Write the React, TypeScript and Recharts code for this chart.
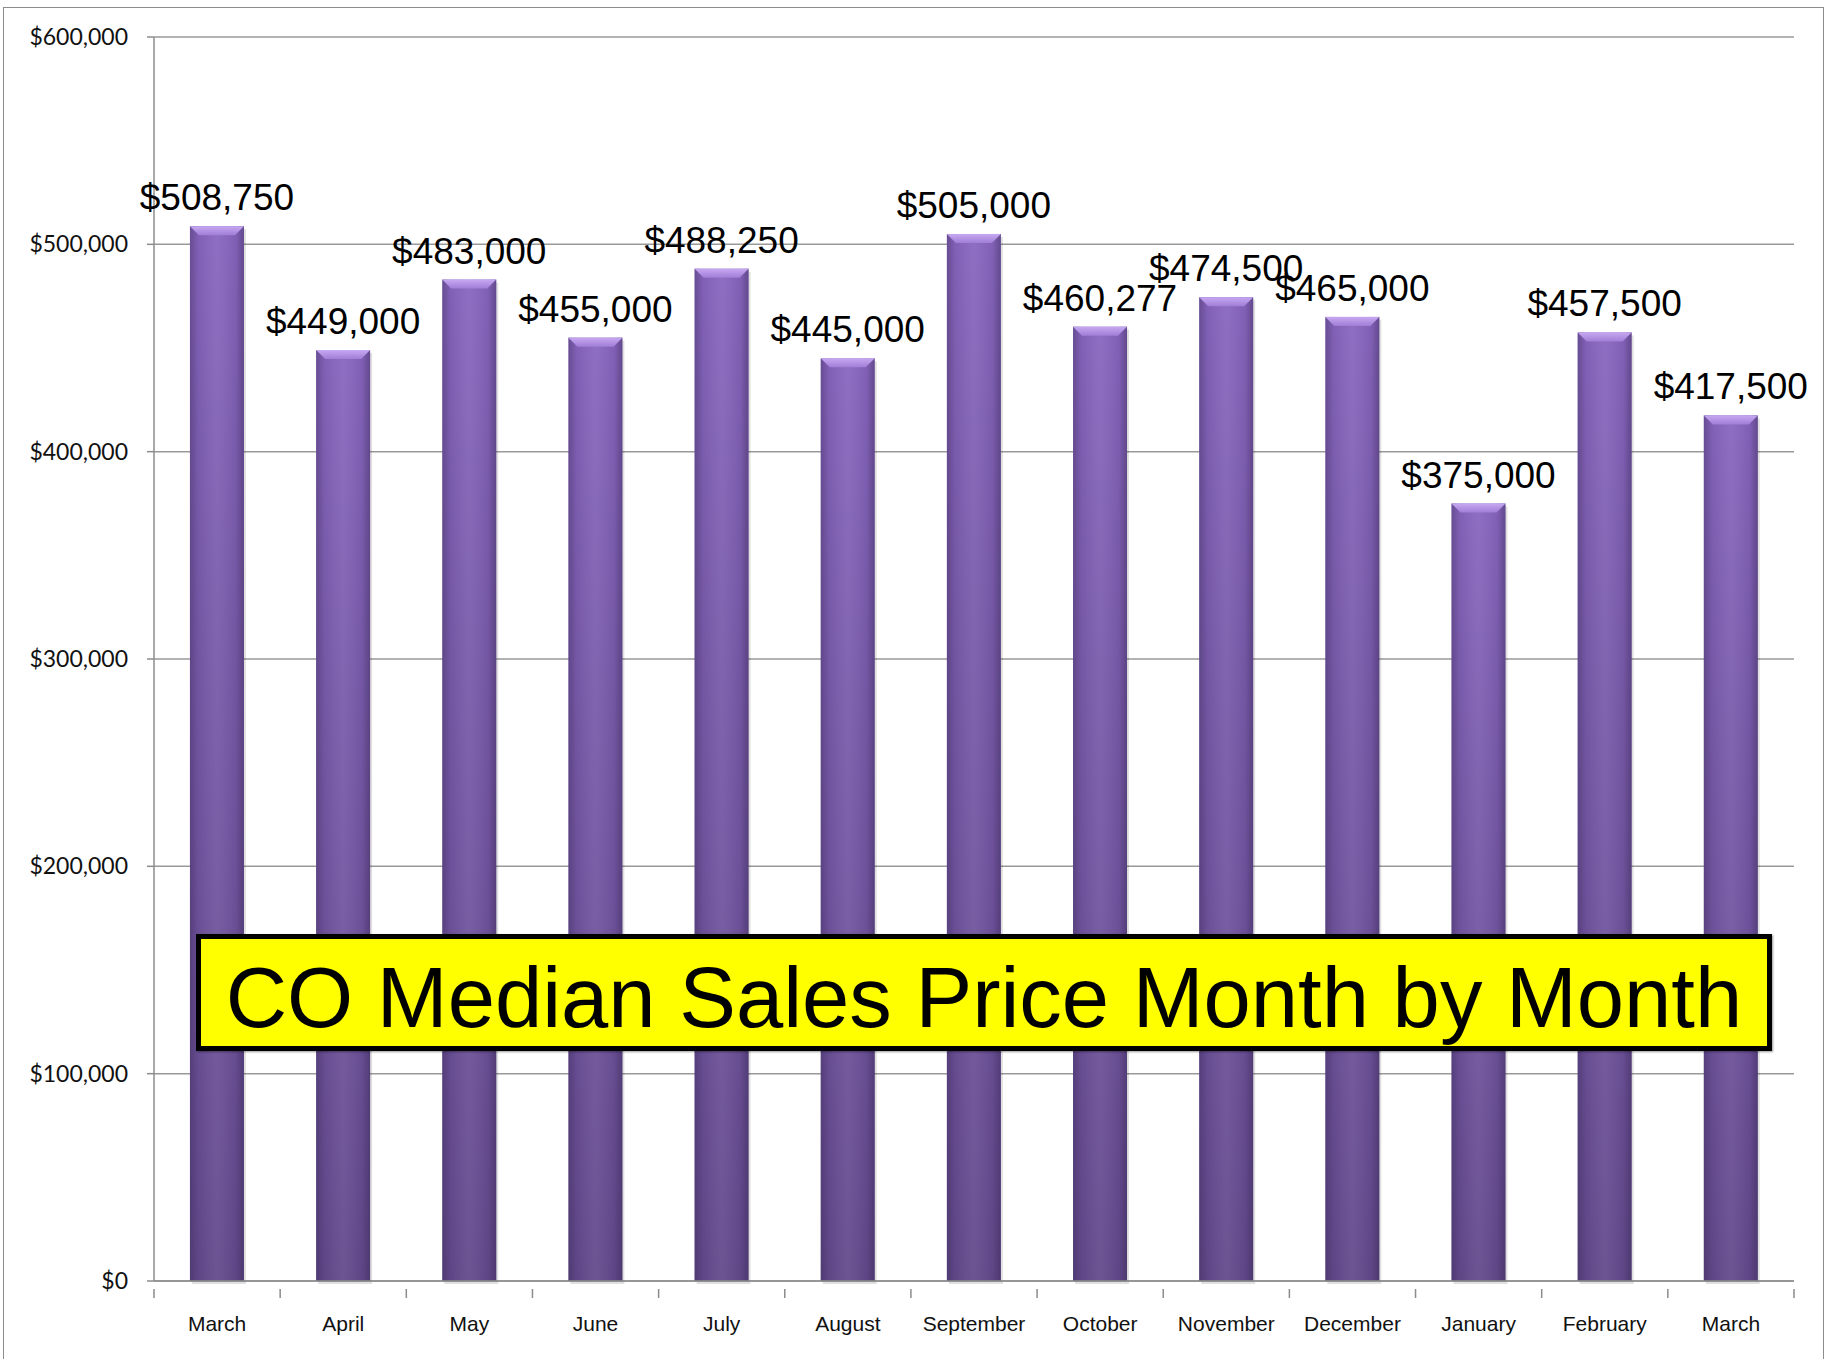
import { BarChart, Bar, XAxis, YAxis, CartesianGrid, LabelList } from "recharts"

const months = [
  "March", "April", "May", "June", "July", "August", "September",
  "October", "November", "December", "January", "February", "March",
]
const prices = [
  508750, 449000, 483000, 455000, 488250, 445000, 505000,
  460277, 474500, 465000, 375000, 457500, 417500,
]
const yTicks = [0, 100000, 200000, 300000, 400000, 500000, 600000]
const title = "CO Median Sales Price Month by Month"

const data = months.map((m, i) => ({ key: `${m}-${i}`, month: m, price: prices[i] }))

const money = (v: number) => "$" + v.toLocaleString("en-US")

function BevelBar(props: any) {
  const { x, y, width, height } = props
  if (!height || height <= 0) return null
  const b = Math.min(9, height / 2)
  return (
    <g>
      <rect x={x + 2} y={y + 3} width={width} height={height} fill="#000" opacity={0.12} />
      <rect x={x} y={y} width={width} height={height} fill="url(#barBody)" />
      <rect x={x} y={y} width={width} height={height} fill="url(#barSides)" />
      <path
        d={`M${x},${y} L${x + width},${y} L${x + width - b},${y + b} L${x + b},${y + b} Z`}
        fill="url(#barTop)"
      />
    </g>
  )
}

function MonthTick(props: any) {
  const { x, y, payload, index } = props
  const half = payload?.offset ?? 0
  const last = index === months.length - 1
  return (
    <g>
      <line x1={x - half} x2={x - half} y1={y} y2={y + 9} stroke="#8c8c8c" strokeWidth={1.5} />
      {last && (
        <line x1={x + half} x2={x + half} y1={y} y2={y + 9} stroke="#8c8c8c" strokeWidth={1.5} />
      )}
      <text
        x={x}
        y={y + 42}
        textAnchor="middle"
        fontFamily="Liberation Sans, Arial, sans-serif"
        fontSize={21}
        fill="#111"
      >
        {payload.value}
      </text>
    </g>
  )
}

export default function App() {
  return (
    <div style={{ position: "absolute", left: 0, top: 0, width: 1839, height: 1359, background: "#fff" }}>
      <div
        style={{
          position: "absolute",
          left: 3,
          top: 7,
          width: 1821,
          height: 1360,
          border: "1.5px solid #8c8c8c",
          boxSizing: "border-box",
        }}
      />
      <BarChart
        width={1839}
        height={1359}
        data={data}
        margin={{ top: 37, right: 45, left: 0, bottom: 0 }}
        barCategoryGap="28.5%"
      >
        <defs>
          <linearGradient id="barBody" x1="0" y1="0" x2="0" y2="1">
            <stop offset="0%" stopColor="#8765be" />
            <stop offset="100%" stopColor="#62498b" />
          </linearGradient>
          <linearGradient id="barSides" x1="0" y1="0" x2="1" y2="0">
            <stop offset="0%" stopColor="#2d1f45" stopOpacity={0.35} />
            <stop offset="15%" stopColor="#2d1f45" stopOpacity={0.08} />
            <stop offset="50%" stopColor="#ffffff" stopOpacity={0.06} />
            <stop offset="85%" stopColor="#2d1f45" stopOpacity={0.08} />
            <stop offset="100%" stopColor="#2d1f45" stopOpacity={0.4} />
          </linearGradient>
          <linearGradient id="barTop" x1="0" y1="0" x2="0" y2="1">
            <stop offset="0%" stopColor="#c7a8f2" />
            <stop offset="100%" stopColor="#a07ed6" />
          </linearGradient>
        </defs>
        <CartesianGrid vertical={false} stroke="#999" strokeWidth={1.5} />
        <XAxis
          dataKey="key"
          tick={(p: any) => <MonthTick {...p} payload={{ ...p.payload, value: months[p.index] }} />}
          tickLine={false}
          axisLine={{ stroke: "#8c8c8c", strokeWidth: 1.5 }}
          height={78}
          interval={0}
        />
        <YAxis
          domain={[0, 600000]}
          ticks={yTicks}
          width={154}
          tickSize={7}
          tickMargin={19}
          tickLine={{ stroke: "#8c8c8c", strokeWidth: 1.5 }}
          axisLine={{ stroke: "#8c8c8c", strokeWidth: 1.5 }}
          tickFormatter={money}
          tick={{ fontFamily: "Lato, Liberation Sans, sans-serif", fontSize: 23, fill: "#111" }}
        />
        <Bar dataKey="price" isAnimationActive={false} shape={<BevelBar />}>
          <LabelList
            dataKey="price"
            position="top"
            offset={16}
            formatter={(v: any) => money(Number(v))}
            style={{ fontFamily: "Liberation Sans, Arial, sans-serif", fontSize: 37, fill: "#000" }}
          />
        </Bar>
      </BarChart>
      <div
        style={{
          position: "absolute",
          left: 196,
          top: 934,
          width: 1576,
          height: 117,
          boxSizing: "border-box",
          border: "5px solid #000",
          background: "#ffff00",
          display: "flex",
          alignItems: "center",
          justifyContent: "center",
          paddingTop: 10,
          fontFamily: "Liberation Sans, Arial, sans-serif",
          fontSize: 85,
          color: "#000",
          whiteSpace: "nowrap",
          boxShadow: "1px 1px 2px rgba(0,0,0,0.4)",
        }}
      >
        {title}
      </div>
    </div>
  )
}
